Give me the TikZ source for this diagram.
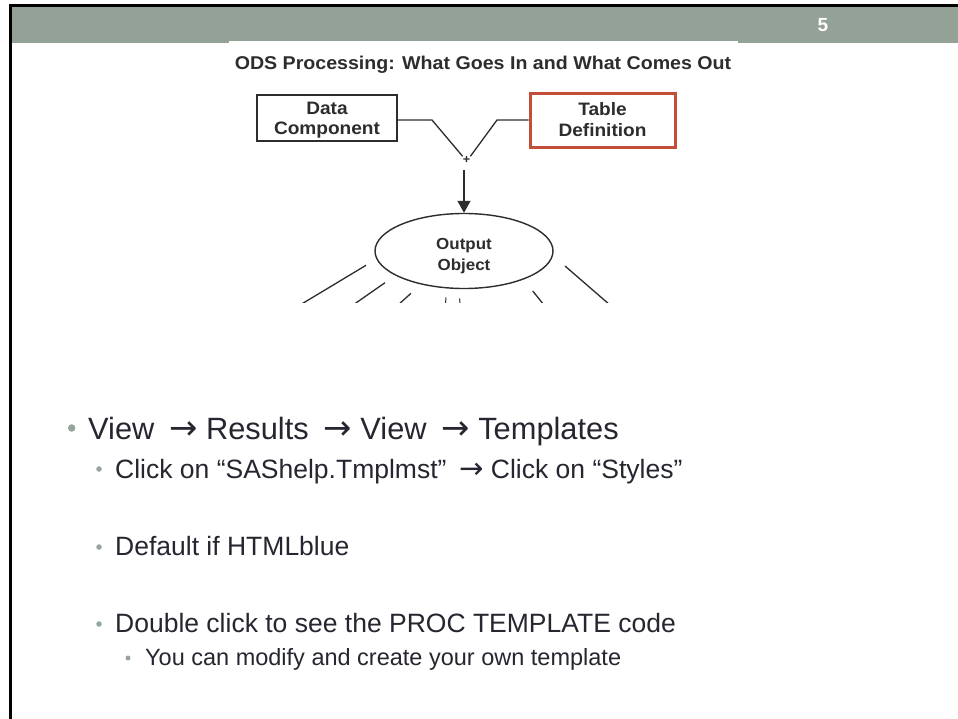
\documentclass[tikz,border=0pt]{standalone}
\usepackage{fontspec}
\setmainfont{Liberation Sans}
\newfontfamily\diagfont{Liberation Sans}[FakeStretch=1.06]
\newfontfamily\arrowfont{DejaVu Sans}
\newcommand{\goesto}{\hspace{0.2em}{\arrowfont\scalebox{1.1}{→}}}
\newcommand{\twolines}[3]{\raisebox{#1}[\height][\depth]{\begin{tabular}{@{}c@{}}#2\\#3\end{tabular}}}
\usetikzlibrary{shapes.geometric,arrows.meta}
\definecolor{hdrgreen}{RGB}{147,161,151}
\definecolor{bulletgray}{RGB}{150,165,156}
\definecolor{bodytext}{RGB}{38,38,48}
\definecolor{defred}{RGB}{196,78,58}
\definecolor{ink}{RGB}{45,45,45}

\begin{document}
\begin{tikzpicture}[x=1pt,y=-1pt,
  txt/.style={anchor=base west,inner sep=0,text=bodytext},
  lvlone/.style={txt,font=\fontsize{30.8}{36}\selectfont},
  lvltwo/.style={txt,font=\fontsize{26.5}{31}\selectfont},
  lvlthree/.style={txt,font=\fontsize{23.5}{27}\selectfont},
  dot/.style={circle,fill=bulletgray,inner sep=0},
  diagbox/.style={draw=ink,line width=1.4pt,inner sep=0,
    font=\diagfont\bfseries\fontsize{18}{20.5}\selectfont,text=ink},
  wire/.style={draw=ink,line width=1.3pt}]

\useasboundingbox (0,0) rectangle (958,719);
\fill[white] (0,0) rectangle (958,719);

% slide header and frame
\fill[hdrgreen] (12,7) rectangle (958,43);
\fill[black] (9,4) rectangle (958,7);
\fill[black] (9,4) rectangle (12,719);
\node[font=\bfseries\fontsize{19}{22}\selectfont,text=white,anchor=base,inner sep=0] (pg) at (823,32) {5};

% embedded figure area
\fill[white] (229,41) rectangle (738,303);
\node[font=\diagfont\bfseries\fontsize{18.5}{22}\selectfont,text=ink,anchor=base,inner sep=0] (title) at (483,70)
  {ODS Processing: What Goes In and What Comes Out};

\node[diagbox,minimum width=140pt,minimum height=46pt] (dc) at (327,118)
  {\twolines{-2.5pt}{Data}{Component}};
\node[diagbox,draw=defred,line width=3pt,minimum width=145pt,minimum height=54pt] (td) at (602.5,121)
  {\twolines{-1pt}{Table}{Definition}};
\node[font=\diagfont\bfseries\fontsize{12}{12}\selectfont,text=ink,inner sep=0] (plus) at (466.5,160) {+};
\node[diagbox,ellipse,minimum width=178pt,minimum height=75pt,
  font=\diagfont\bfseries\fontsize{16}{21}\selectfont] (obj) at (464,251)
  {\twolines{-4.5pt}{Output}{Object}};

\draw[wire] (dc.east |- 0,120) -- (432,120) -- (plus.north west);
\draw[wire] (td.west |- 0,120) -- (497,120) -- (plus.north east);
\draw[wire,-{Triangle[width=13pt,length=12pt]}] (464,170) -- (obj.north);

% fan of outputs, cut off at the figure edge
\begin{scope}
  \clip (229,41) rectangle (738,302);
  \coordinate (f1a) at (366,265.3); \coordinate (f1b) at (300,305);
  \coordinate (f2a) at (385,282.7); \coordinate (f2b) at (353,305);
  \coordinate (f3a) at (411,293.3); \coordinate (f3b) at (398,305);
  \coordinate (f4a) at (532.7,291); \coordinate (f4b) at (544,305);
  \coordinate (f5a) at (565,266);   \coordinate (f5b) at (610,305);
  \draw[wire] (f1a) -- (f1b);
  \draw[wire] (f2a) -- (f2b);
  \draw[wire] (f3a) -- (f3b);
  \draw[wire] (f4a) -- (f4b);
  \draw[wire] (f5a) -- (f5b);
  \coordinate (m1a) at (446,297.5); \coordinate (m1b) at (445.5,303);
  \coordinate (m2a) at (459.5,298.5); \coordinate (m2b) at (460,303);
  \draw[wire,line width=1pt] (m1a) -- (m1b);
  \draw[wire,line width=1pt] (m2a) -- (m2b);
\end{scope}

% bullet list
\node[dot,minimum size=7.5pt] (d1) at (71.7,428) {};
\node[lvlone] (t1) at (88,439) {View \goesto{} Results \goesto{} View \goesto{} Templates};
\node[dot,minimum size=5.5pt] (d2) at (99,469) {};
\node[lvltwo] (t2) at (115,478) {Click on “SAShelp.Tmplmst” \goesto{} Click on “Styles”};
\node[dot,minimum size=5.5pt] (d3) at (99,547) {};
\node[lvltwo] (t3) at (115,555) {Default if HTMLblue};
\node[dot,minimum size=5.5pt] (d4) at (99,624) {};
\node[lvltwo] (t4) at (115,632) {Double click to see the PROC TEMPLATE code};
\node[dot,minimum size=5pt] (d5) at (128,658) {};
\node[lvlthree] (t5) at (145,665) {You can modify and create your own template};
\end{tikzpicture}
\end{document}
